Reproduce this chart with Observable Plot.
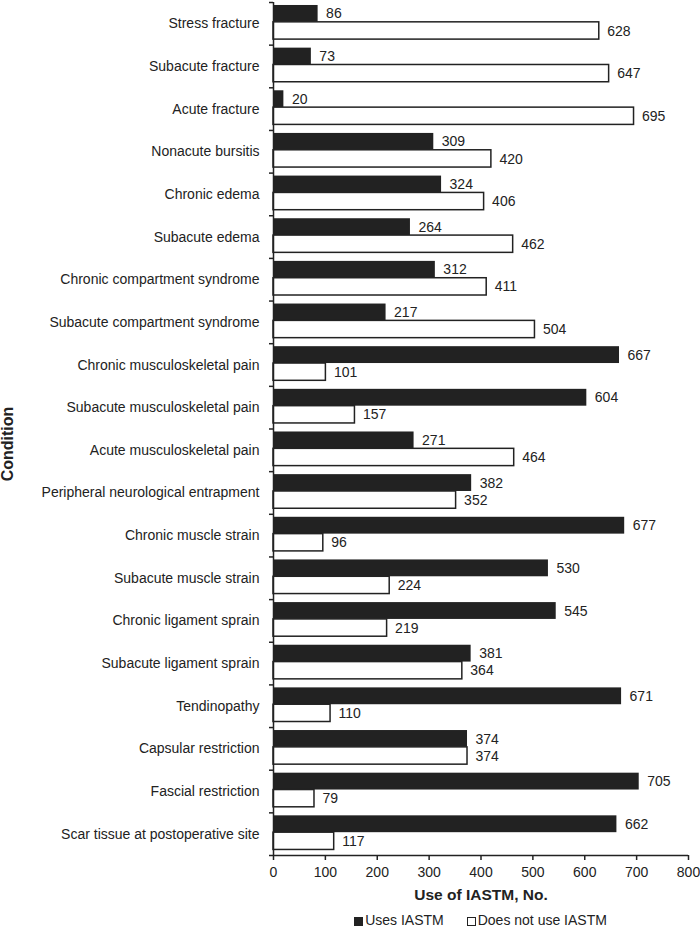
<!DOCTYPE html>
<html><head><meta charset="utf-8">
<script src="https://cdn.jsdelivr.net/npm/d3@7"></script>
<script src="https://cdn.jsdelivr.net/npm/@observablehq/plot@0.6"></script>
<style>
html,body{margin:0;background:#fff;font-family:"Liberation Sans",Arial,sans-serif;color:#222;overflow:hidden;}
#chart svg{display:block;}
#legend{width:700px;box-sizing:border-box;padding-left:273px;padding-right:12px;text-align:center;font-size:14px;line-height:17px;height:17px;white-space:nowrap;}
#legend .item{display:inline-block;}
#legend .item + .item{margin-left:23px;}
#legend .sw{display:inline-block;width:9px;height:9px;margin-right:2px;box-sizing:border-box;border:1.3px solid #222;vertical-align:-1px;}
</style></head><body>
<div id="chart"></div>
<div id="legend"></div>
<script>
const conditions = [
  "Stress fracture","Subacute fracture","Acute fracture","Nonacute bursitis","Chronic edema",
  "Subacute edema","Chronic compartment syndrome","Subacute compartment syndrome",
  "Chronic musculoskeletal pain","Subacute musculoskeletal pain","Acute musculoskeletal pain",
  "Peripheral neurological entrapment","Chronic muscle strain","Subacute muscle strain",
  "Chronic ligament sprain","Subacute ligament sprain","Tendinopathy","Capsular restriction",
  "Fascial restriction","Scar tissue at postoperative site"
];
const usesIASTM =       [86, 73, 20, 309, 324, 264, 312, 217, 667, 604, 271, 382, 677, 530, 545, 381, 671, 374, 705, 662];
const doesNotUseIASTM = [628, 647, 695, 420, 406, 462, 411, 504, 101, 157, 464, 352, 96, 224, 219, 364, 110, 374, 79, 117];
const seriesNames = ["Uses IASTM", "Does not use IASTM"];
const seriesFills = ["#222", "#fff"];
const xTicks = [0, 100, 200, 300, 400, 500, 600, 700, 800];
const xTitle = "Use of IASTM, No.";
const yTitle = "Condition";

const usesRows = conditions.map((c, i) => ({condition: c, value: usesIASTM[i]}));
const notRows = conditions.map((c, i) => ({condition: c, value: doesNotUseIASTM[i]}));

const W = 700, H = 912, mt = 2, mb = 57, ml = 273, mr = 12;
const step = (H - mt - mb) / conditions.length;
const ink = "#222";
const font = "'Liberation Sans', Arial, sans-serif";

const chart = Plot.plot({
  width: W, height: H,
  marginTop: mt, marginBottom: mb, marginLeft: ml, marginRight: mr,
  style: {fontFamily: font, fontSize: "14px", color: ink, background: "#fff"},
  x: {domain: [0, 800]},
  y: {domain: conditions, padding: 0, round: false},
  marks: [
    Plot.barX(usesRows, {x: "value", y: "condition", fill: seriesFills[0],
      insetTop: step * 0.07, insetBottom: step * 0.535}),
    Plot.barX(notRows, {x: "value", y: "condition", fill: seriesFills[1], stroke: ink, strokeWidth: 1.5,
      insetTop: step * 0.465, insetBottom: step * 0.13}),
    Plot.text(usesRows, {x: "value", y: "condition", text: d => String(d.value),
      dx: 8, dy: -step * 0.23, textAnchor: "start", fill: ink, fontSize: 14}),
    Plot.text(notRows, {x: "value", y: "condition", text: d => String(d.value),
      dx: 8, dy: step * 0.17, textAnchor: "start", fill: ink, fontSize: 14}),
    Plot.ruleX([0], {stroke: ink, strokeWidth: 1.5}),
    Plot.ruleY([conditions[conditions.length - 1]], {x1: 0, x2: 800, dy: step / 2, stroke: ink, strokeWidth: 1.5}),
    Plot.axisY({tickSize: 0, tickPadding: 14, label: null, fontSize: 14, fill: ink}),
    Plot.axisY({text: null, tickSize: 4, dy: -step / 2, stroke: ink, strokeWidth: 1.5, label: null}),
    Plot.axisY({ticks: [conditions[conditions.length - 1]], text: null, tickSize: 4, dy: step / 2, stroke: ink, strokeWidth: 1.5, label: null}),
    Plot.axisX({ticks: xTicks, tickSize: 5, tickPadding: 7, tickFormat: d => String(d), label: null,
      fontSize: 14, fill: ink, stroke: ink, strokeWidth: 1.5}),
    Plot.text([xTitle], {frameAnchor: "bottom", lineAnchor: "middle", textAnchor: "middle", dy: 40, fontWeight: "bold", fontSize: 15.5, fill: ink}),
    Plot.text([yTitle], {frameAnchor: "left", textAnchor: "middle", lineAnchor: "middle", rotate: -90, dx: -266, dy: 15, fontWeight: "bold", fontSize: 16, fill: ink})
  ]
});
document.getElementById("chart").appendChild(chart);

const legend = document.getElementById("legend");
seriesNames.forEach((name, i) => {
  const item = document.createElement("span");
  item.className = "item";
  const sw = document.createElement("span");
  sw.className = "sw";
  sw.style.background = seriesFills[i];
  item.appendChild(sw);
  item.appendChild(document.createTextNode(name));
  legend.appendChild(item);
});
</script>
</body></html>
